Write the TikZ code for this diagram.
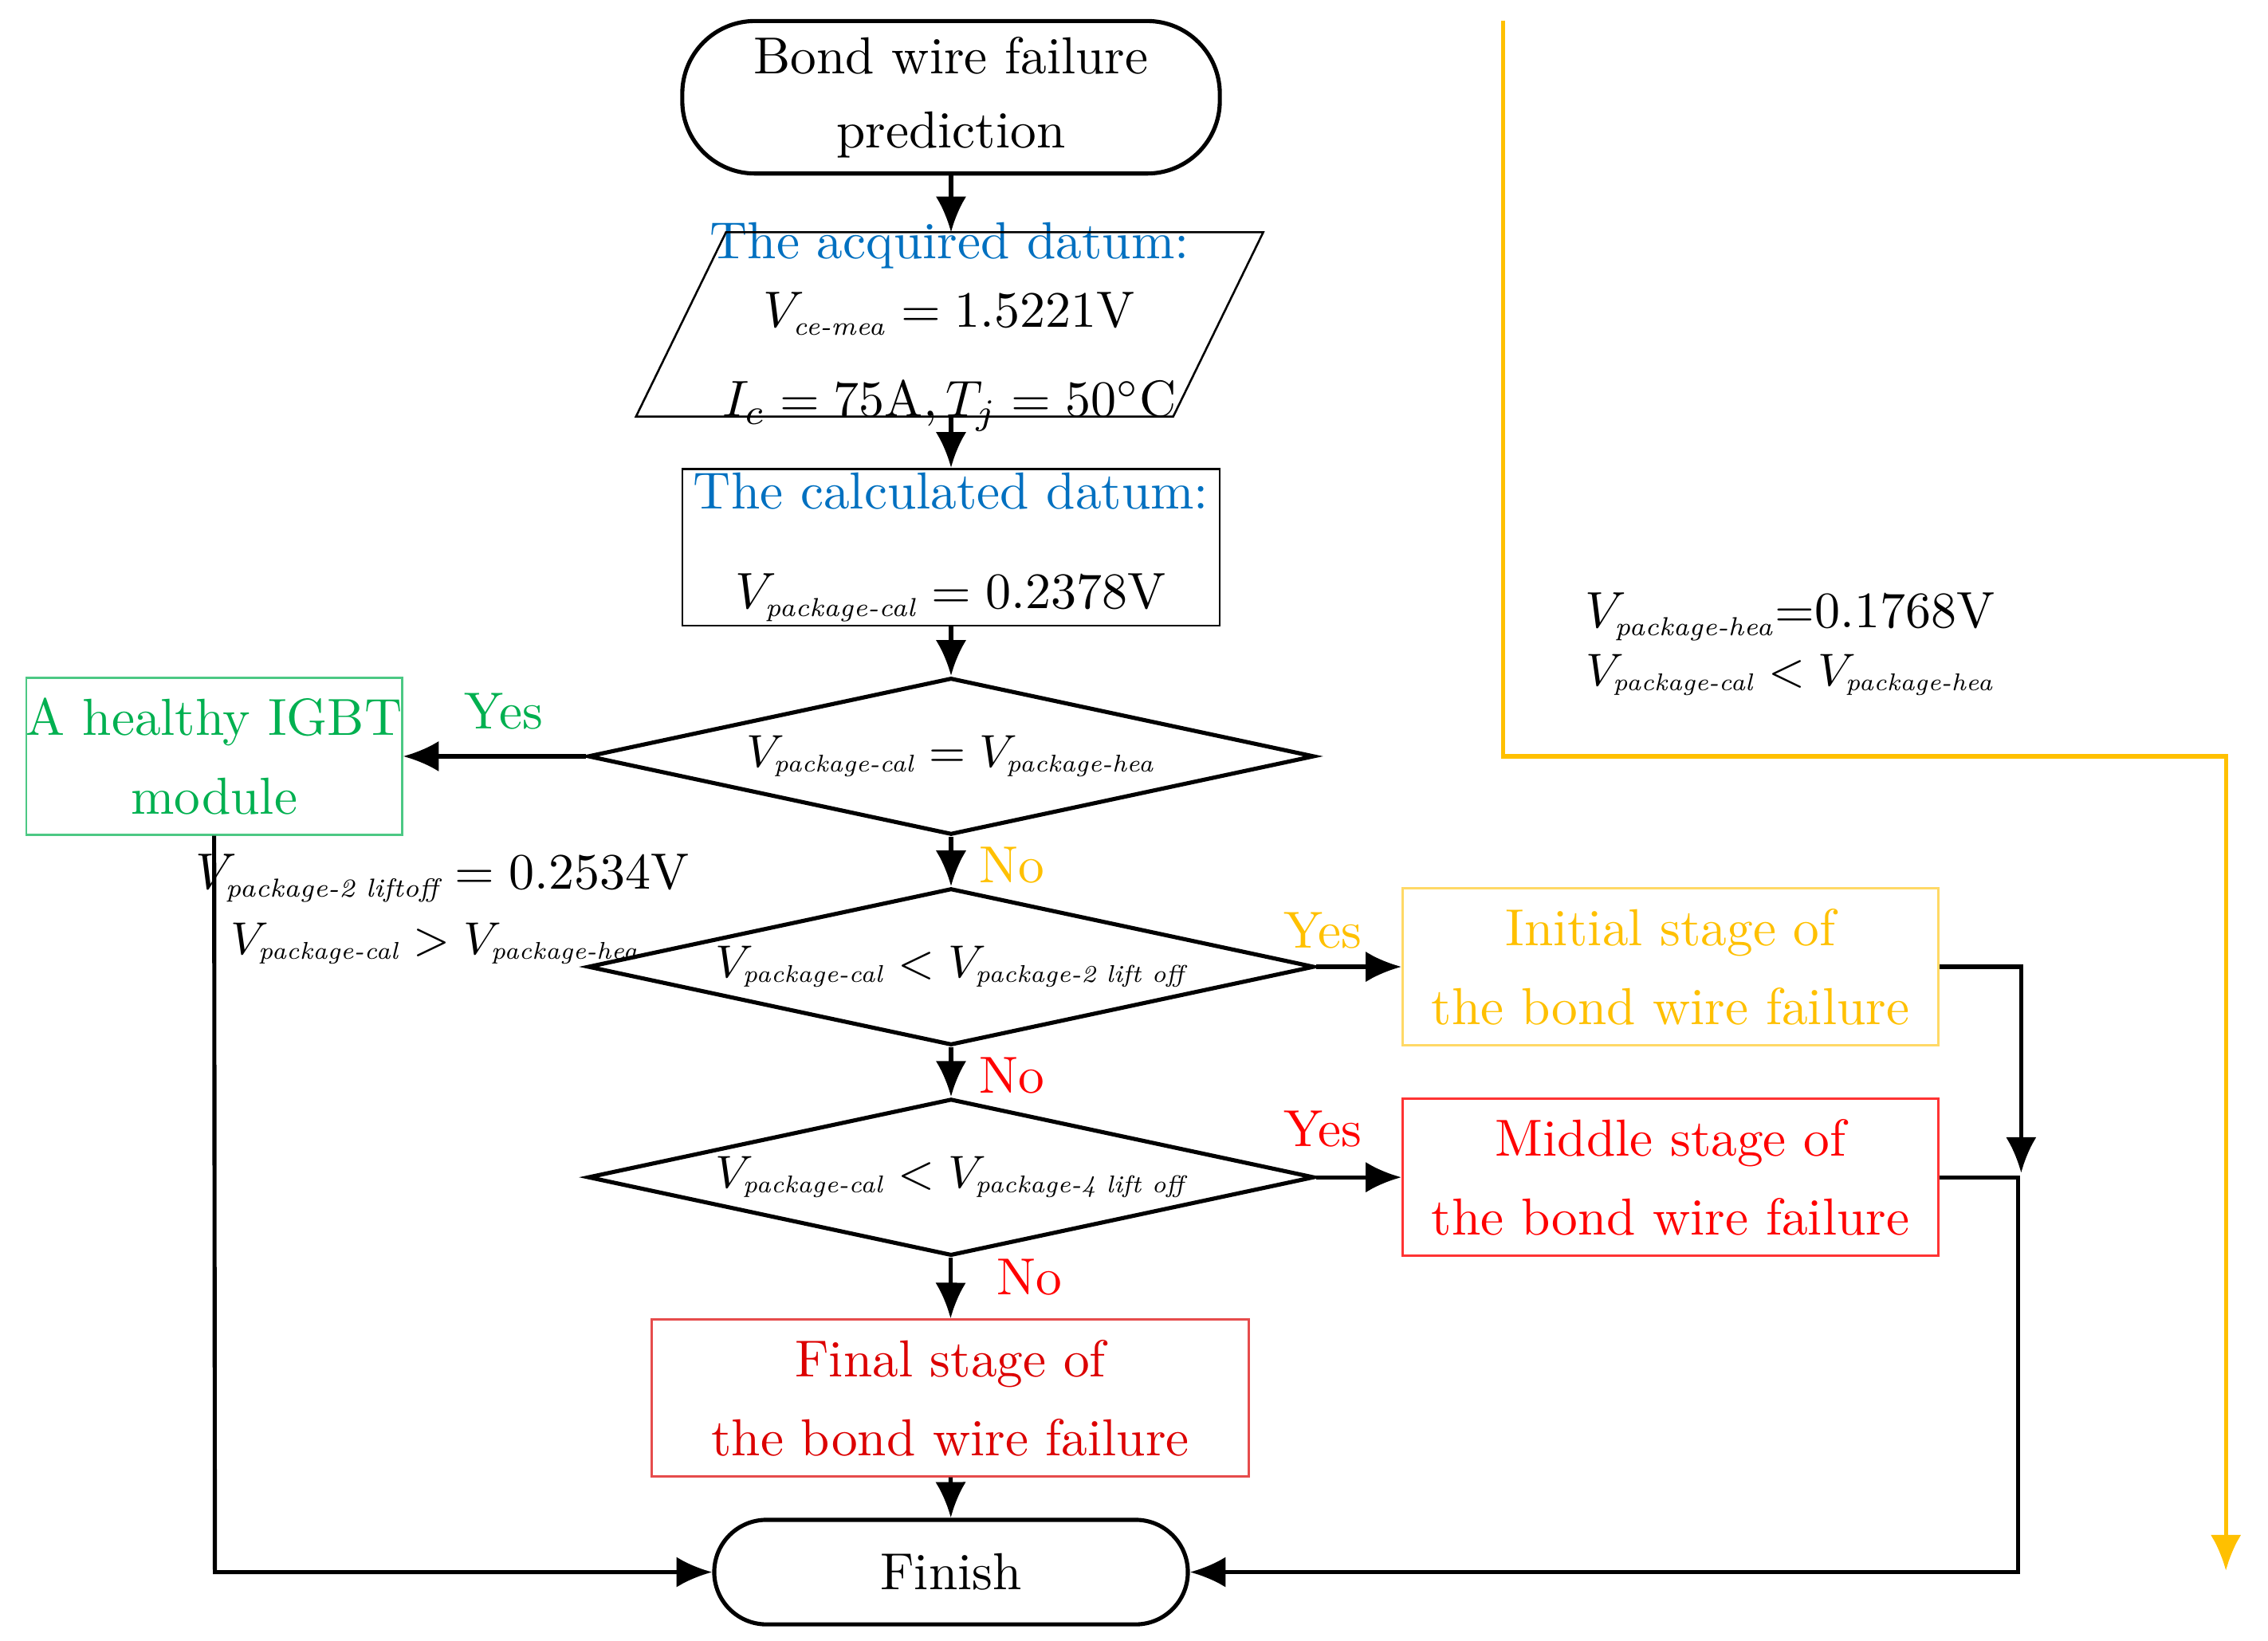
\documentclass[tikz,border=0pt]{standalone}
\usepackage{amsmath}
\usetikzlibrary{shapes.geometric,arrows.meta}
\definecolor{cblue}{RGB}{0,112,192}
\definecolor{cgreen}{RGB}{0,176,80}
\definecolor{cyel}{RGB}{255,192,0}
\definecolor{cred}{RGB}{255,0,0}
\definecolor{cdred}{RGB}{220,0,0}
\newcommand{\sbs}[1]{_{\scriptscriptstyle\textit{#1}}}
\begin{document}
\begin{tikzpicture}[x=0.01cm,y=0.01cm,font=\fontsize{10.2}{12.5}\selectfont,
  line width=0.8pt, >={Latex[length=7pt,width=6pt]},
  term/.style={draw,rounded corners=0.5cm,minimum width=#1,align=center,inner sep=0pt},
  box/.style={draw,line width=0.4pt,align=center,inner sep=0pt},
  dia/.style={draw,diamond,minimum width=5cm,minimum height=1.08cm,inner sep=0pt},
  mt/.style={font=\fontsize{9.5}{12}\selectfont}]
\useasboundingbox (0,0) rectangle (1562,-1130);
\node[term=3.7cm,minimum height=1.05cm] (start) at (655,-67) {Bond wire failure\\[2pt]prediction};
\node[minimum width=3.7cm,minimum height=1.27cm,inner sep=0pt,align=center] (acq) at (654,-225)
  {\textcolor{cblue}{The acquired datum:}\\[1pt] $V\sbs{ce-mea} = 1.5221\mathrm{V}$\\[5pt] $I_c = 75\mathrm{A},T_j = 50^\circ\mathrm{C}$};
\coordinate (p1) at (500,-160); \coordinate (p2) at (870,-160); \coordinate (p3) at (808,-287); \coordinate (p4) at (438,-287);
\draw[line width=0.4pt] (p1) -- (p2) -- (p3) -- (p4) -- cycle;
\node[box,minimum width=3.7cm,minimum height=1.08cm] (calc) at (655,-377)
  {\textcolor{cblue}{The calculated datum:}\\[7pt] $V\sbs{package-cal} = 0.2378\mathrm{V}$};
\node[dia] (d1) at (655,-521) {};
\node[mt] (d1t) at (d1.center) {$V\sbs{package-cal} = V\sbs{package-hea}$};
\node[box,draw=cgreen!70,text=cgreen,minimum width=2.57cm,minimum height=1.08cm] (h) at (147.5,-521) {A healthy IGBT\\[3pt]module};
\node[dia] (d2) at (655,-666) {};
\node[mt] (d2t) at (d2.center) {$V\sbs{package-cal} < V\sbs{package-2 lift off}$};
\node[box,draw=cyel!60,text=cyel,minimum width=3.69cm,minimum height=1.08cm] (ini) at (1150.5,-666) {Initial stage of\\[3pt] the bond wire failure};
\node[dia] (d3) at (655,-811) {};
\node[mt] (d3t) at (d3.center) {$V\sbs{package-cal} < V\sbs{package-4 lift off}$};
\node[box,draw=cred!80,text=cred,minimum width=3.69cm,minimum height=1.08cm] (mid) at (1150.5,-811) {Middle stage of\\[3pt] the bond wire failure};
\node[box,draw=cdred!70,text=cdred,minimum width=4.11cm,minimum height=1.08cm] (fin) at (654.5,-963) {Final stage of\\[3pt] the bond wire failure};
\node[term=3.26cm,minimum height=0.72cm,rounded corners=0.36cm] (end) at (655,-1083) {Finish};
\draw[->] (start) -- (655,-160);
\draw[->] (655,-287) -- (calc);
\draw[->] (calc) -- (d1);
\draw[->] (d1) -- (h);
\draw[->] (d1) -- (d2);
\draw[->] (d2) -- (ini);
\draw[->] (d2) -- (d3);
\draw[->] (d3) -- (mid);
\draw[->] (d3) -- (fin);
\draw[->] (fin) -- (end);
\coordinate (c1) at (1392,-666); \coordinate (c2) at (1392,-808);
\draw[->] (ini.east) -- (c1) -- (c2);
\coordinate (c3) at (1390,-811); \coordinate (c4) at (1390,-1083);
\draw[->] (mid.east) -- (c3) -- (c4) -- (end.east);
\coordinate (c5) at (148,-1083);
\draw[->] (h.south) -- (c5) -- (end.west);
\coordinate (y0) at (1035,-14); \coordinate (y1) at (1035,-521); \coordinate (y2) at (1533,-521); \coordinate (y3) at (1533,-1082);
\draw[cyel,->] (y0) -- (y1) -- (y2) -- (y3);
\node[text=cgreen] (l1) at (347,-490) {Yes};
\node[text=cyel] (l2) at (697,-596) {No};
\node[text=cyel] (l3) at (911,-641) {Yes};
\node[text=cred] (l4) at (697,-741) {No};
\node[text=cred] (l5) at (911,-778) {Yes};
\node[text=cred] (l6) at (709,-880) {No};
\node (t1) at (305,-605) {$V\sbs{package-2 liftoff}= 0.2534\mathrm{V}$};
\node[mt] (t2) at (300,-650) {$V\sbs{package-cal}>V\sbs{package-hea}$};
\node (t3) at (1233,-425) {$V\sbs{package-hea}{=}0.1768\mathrm{V}$};
\node[mt] (t4) at (1233,-465) {$V\sbs{package-cal}<V\sbs{package-hea}$};
\end{tikzpicture}
\end{document}
